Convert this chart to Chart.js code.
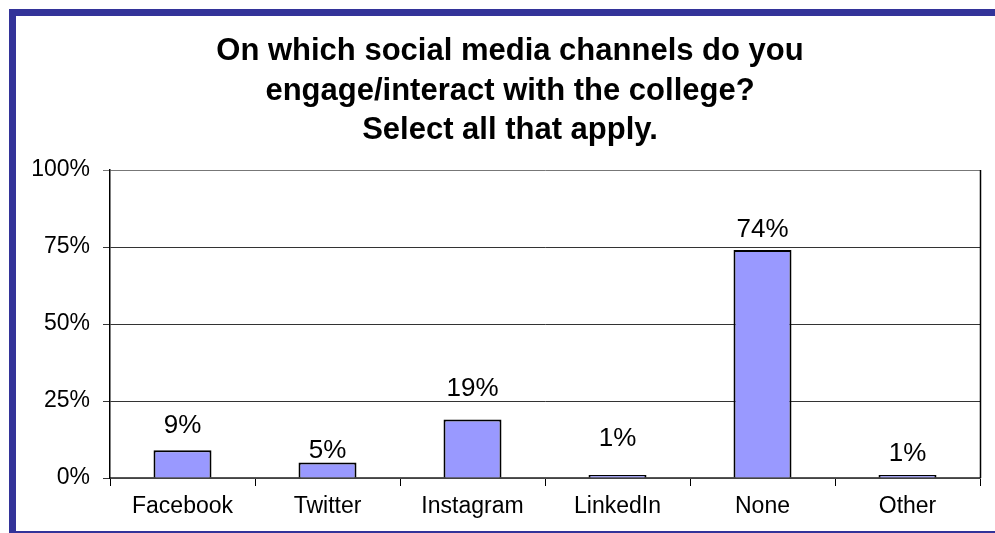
<!DOCTYPE html>
<html>
<head>
<meta charset="utf-8">
<script src="https://cdn.jsdelivr.net/npm/chart.js@4.4.1/dist/chart.umd.min.js"></script>
<style>
  html, body { margin: 0; padding: 0; background: #fff; }
  #wrap { width: 995px; height: 533px; position: relative; }
</style>
</head>
<body>
<div id="wrap"><canvas id="surveyChart" width="995" height="533"></canvas></div>
<script>
// data
var channels = ['Facebook', 'Twitter', 'Instagram', 'LinkedIn', 'None', 'Other'];
var shares = [9, 5, 19, 1, 74, 1];
var yTicks = [0, 25, 50, 75, 100];
var titleLines = ['On which social media channels do you', 'engage/interact with the college?', 'Select all that apply.'];

// how far (px) each value label sits above its bar, as placed in the original slide
var labelLift = [24, 12, 31, 36, 20, 21];

var FONT = '"Liberation Sans", Arial, sans-serif';

// navy slide frame, slide title, plot box right edge and value labels
var slidePlugin = {
    id: 'slide',
    beforeDraw: function(chart) {
        var ctx = chart.ctx;
        ctx.save();
        ctx.fillStyle = '#333399';
        ctx.fillRect(9, 9, 7, 524);
        ctx.fillRect(9, 9, 986, 7);
        ctx.fillRect(9, 531, 986, 2);

        // title (centred on the slide, not on the axis box)
        ctx.fillStyle = '#000';
        ctx.font = 'bold 31px ' + FONT;
        ctx.textAlign = 'center';
        ctx.textBaseline = 'alphabetic';
        titleLines.forEach(function(line, i) {
            ctx.fillText(line, 510, 60 + i * 39.5);
        });
        ctx.restore();
    },
    afterDatasetsDraw: function(chart) {
        var ctx = chart.ctx;
        var area = chart.chartArea;
        ctx.save();
        ctx.strokeStyle = '#000';
        ctx.lineWidth = 1.5;
        ctx.beginPath();
        ctx.moveTo(Math.round(area.right) + 0.5, area.top);
        ctx.lineTo(Math.round(area.right) + 0.5, area.bottom);
        ctx.stroke();

        var meta = chart.getDatasetMeta(0);
        ctx.fillStyle = '#000';
        ctx.font = '26px ' + FONT;
        ctx.textAlign = 'center';
        ctx.textBaseline = 'middle';
        meta.data.forEach(function(bar, i) {
            ctx.fillText(shares[i] + '%', bar.x, bar.y - labelLift[i]);
        });
        ctx.restore();
    }
};

var ctx = document.getElementById('surveyChart').getContext('2d');
new Chart(ctx, {
    type: 'bar',
    data: {
        labels: channels,
        datasets: [{
            data: shares,
            backgroundColor: '#9999FF',
            borderColor: '#000000',
            borderWidth: 2,
            barPercentage: 0.4,
            categoryPercentage: 1.0
        }]
    },
    options: {
        responsive: false,
        animation: false,
        layout: {
            padding: { left: 20, right: 15, top: 170, bottom: 15 }
        },
        scales: {
            x: {
                offset: true,
                afterFit: function(axis) {
                    axis.height = 40;
                },
                grid: {
                    offset: true,
                    drawOnChartArea: false,
                    drawTicks: true,
                    tickLength: 8,
                    color: '#000',
                    lineWidth: 1
                },
                border: { color: '#555', width: 1.5 },
                ticks: {
                    color: '#000',
                    padding: 7,
                    font: { family: FONT, size: 23 }
                }
            },
            y: {
                min: 0,
                max: 100,
                afterBuildTicks: function(axis) {
                    axis.ticks = yTicks.map(function(v) { return { value: v }; });
                },
                afterFit: function(axis) {
                    axis.width = 90;
                },
                grid: {
                    color: function(c) { return c.tick && c.tick.value === 100 ? '#777' : '#333'; },
                    lineWidth: 1,
                    drawTicks: true,
                    tickLength: 7
                },
                border: { color: '#000', width: 1.5 },
                ticks: {
                    color: '#000',
                    padding: 13,
                    font: { family: FONT, size: 23 },
                    callback: function(v) { return v + '%'; }
                }
            }
        },
        plugins: {
            legend: { display: false },
            tooltip: { enabled: false },
            title: { display: false }
        }
    },
    plugins: [slidePlugin]
});
</script>
</body>
</html>
